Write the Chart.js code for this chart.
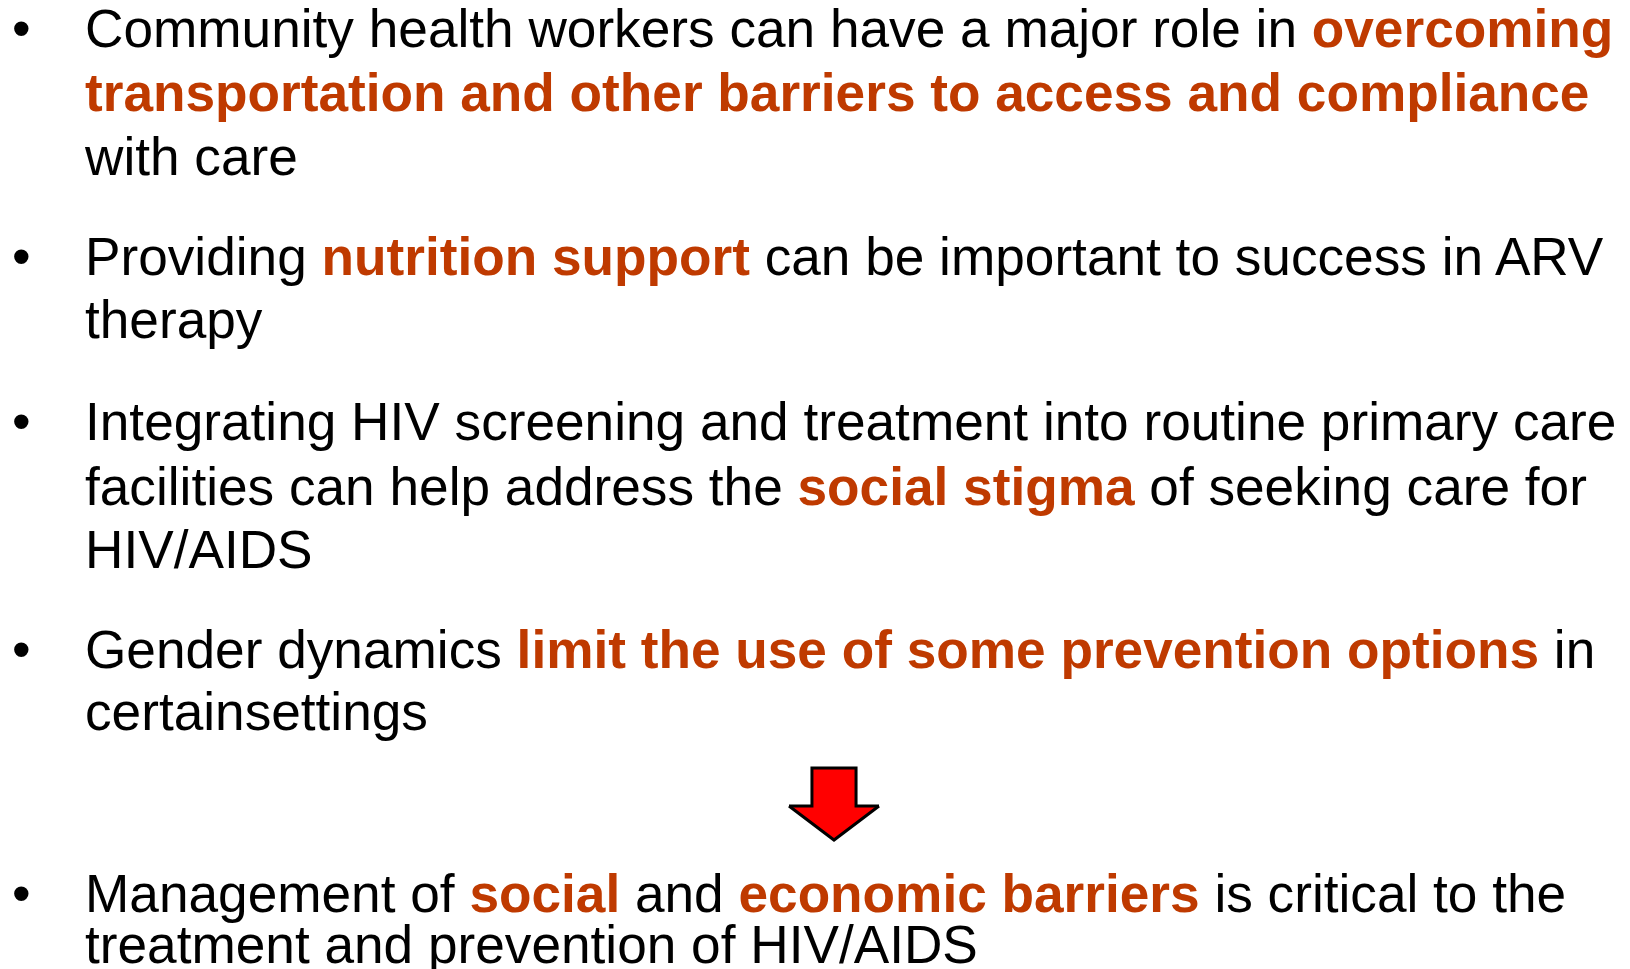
<!DOCTYPE html>
<html>
<head>
<meta charset="utf-8">
<script src="https://cdn.jsdelivr.net/npm/chart.js@4.4.1/dist/chart.umd.min.js"></script>
<style>
  html, body { margin: 0; padding: 0; background: #fff; }
  body { width: 1630px; height: 969px; position: relative; overflow: hidden;
         font-family: "Liberation Sans", Arial, sans-serif; font-size: 53.2px; color: #000; }
  .line { position: absolute; left: 85px; white-space: pre; line-height: 53px; }
  .bullet { position: absolute; left: 12px; line-height: 53px; }
  .hl { color: #bf3a00; font-weight: bold; }
  #arrow { position: absolute; left: 779px; top: 758px; }
</style>
</head>
<body>
<canvas id="arrow" width="110" height="92"></canvas>
<script>
// slide text: each line is a list of [text, highlighted]
const textLines = [
  [['Community health workers can have a major role in ', false], ['overcoming', true]],
  [['transportation and other barriers to access and compliance', true]],
  [['with care', false]],
  [['Providing ', false], ['nutrition support', true], [' can be important to success in ARV', false]],
  [['therapy', false]],
  [['Integrating HIV screening and treatment into routine primary care', false]],
  [['facilities can help address the ', false], ['social stigma', true], [' of seeking care for', false]],
  [['HIV/AIDS', false]],
  [['Gender dynamics ', false], ['limit the use of some prevention options', true], [' in', false]],
  [['certainsettings', false]],
  [['Management of ', false], ['social', true], [' and ', false], ['economic barriers', true], [' is critical to the', false]],
  [['treatment and prevention of HIV/AIDS', false]]
];
const lineBaselines = [47, 111, 175, 275, 338, 440, 505, 568, 668, 730, 912, 963];
const bulletLines = [0, 3, 5, 8, 10];

// arrow outline (x from -1 to 1, y from 0 at tip to 1 at top)
const arrowTopX = [-1, -0.49, -0.49, 0.49, 0.49, 1];
const arrowTopY = [0.472, 0.472, 1, 1, 0.472, 0.472];
const arrowBottomX = [-1, 0, 1];
const arrowBottomY = [0.472, 0, 0.472];

const ascent = 45;
textLines.forEach(function (segs, i) {
    const div = document.createElement('div');
    div.className = 'line';
    div.style.top = (lineBaselines[i] - ascent) + 'px';
    segs.forEach(function (s) {
        const sp = document.createElement('span');
        sp.textContent = s[0];
        if (s[1]) sp.className = 'hl';
        div.appendChild(sp);
    });
    document.body.appendChild(div);
    if (bulletLines.indexOf(i) >= 0) {
        const b = document.createElement('div');
        b.className = 'bullet';
        b.textContent = '\u2022';
        b.style.top = (lineBaselines[i] - ascent) + 'px';
        document.body.appendChild(b);
    }
});

const toPoints = (xs, ys) => xs.map((x, i) => ({ x: x, y: ys[i] }));

new Chart(document.getElementById('arrow'), {
    type: 'scatter',
    data: {
        datasets: [{
            data: toPoints(arrowBottomX, arrowBottomY),
            showLine: true,
            borderColor: '#000',
            borderWidth: 3,
            pointRadius: 0,
            fill: false,
            clip: false
        }, {
            data: toPoints(arrowTopX, arrowTopY),
            showLine: true,
            borderColor: '#000',
            borderWidth: 3,
            pointRadius: 0,
            backgroundColor: '#ff0000',
            fill: 0,
            clip: false
        }]
    },
    options: {
        responsive: false,
        animation: false,
        layout: { padding: 10 },
        plugins: { legend: { display: false }, tooltip: { enabled: false } },
        scales: {
            x: { type: 'linear', min: -1, max: 1, display: false },
            y: { type: 'linear', min: 0, max: 1, display: false }
        }
    }
});
</script>
</body>
</html>
